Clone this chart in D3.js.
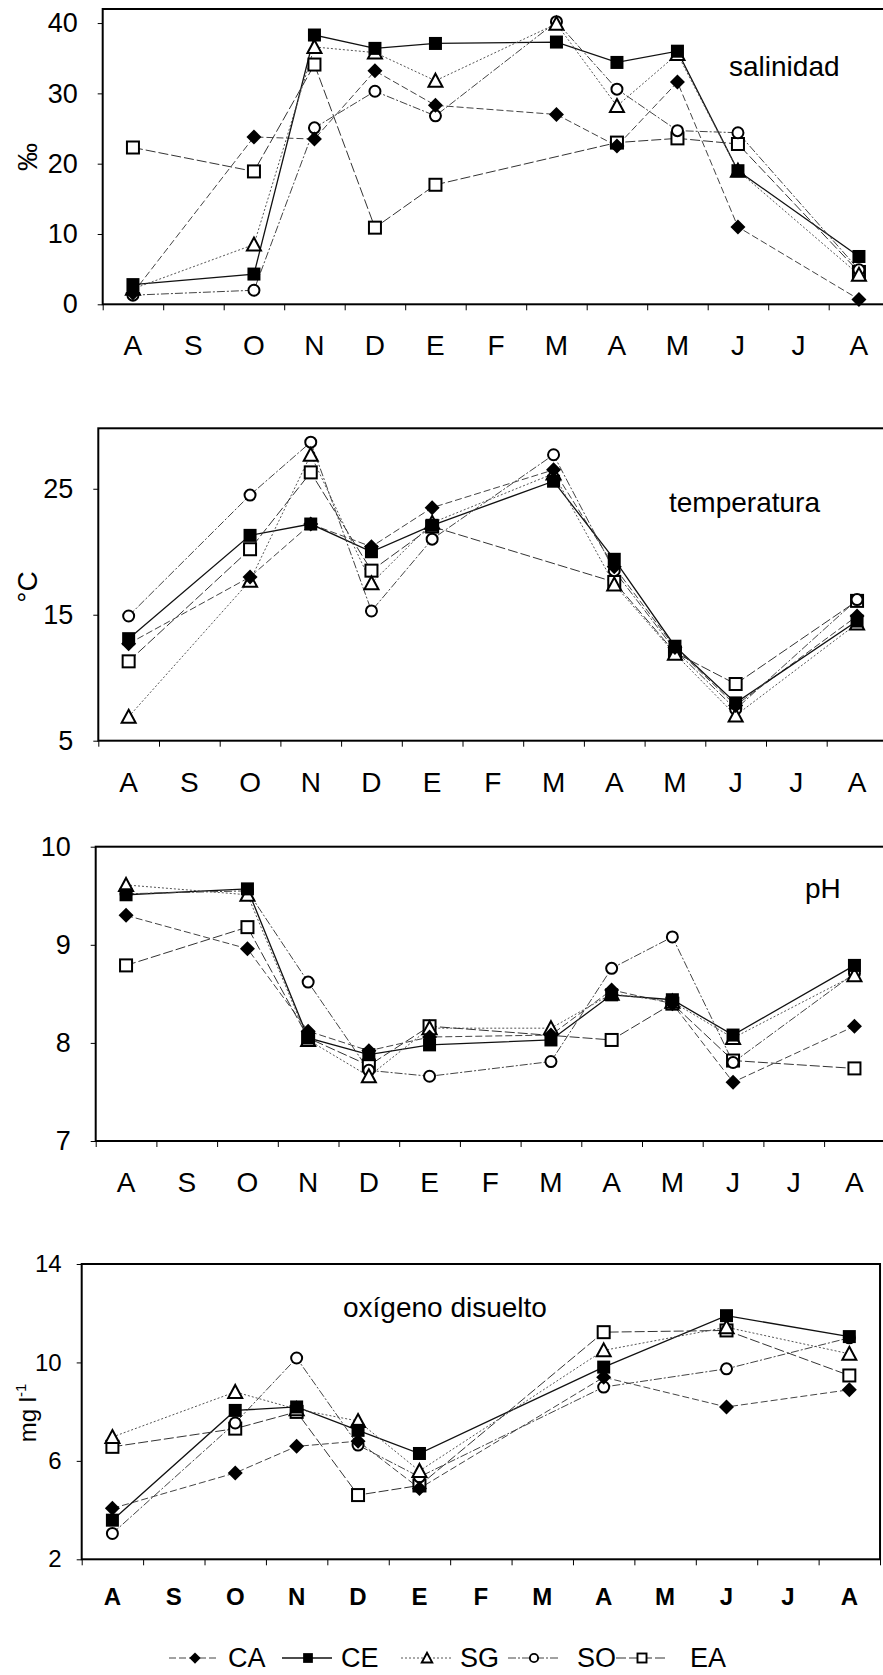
<!DOCTYPE html>
<html>
<head>
<meta charset="utf-8">
<script src="https://cdn.jsdelivr.net/npm/d3@7/dist/d3.min.js"></script>
<style>
body { margin: 0; background: #fff; }
svg text { font-family: "Liberation Sans", Arial, sans-serif; fill: #000; }
</style>
</head>
<body>
<svg id="chart" width="883" height="1675"></svg>
<script>
// month labels (Aug .. Aug)
let months = ["A", "S", "O", "N", "D", "E", "F", "M", "A", "M", "J", "J", "A"];
let stations = ["CA", "CE", "SG", "SO", "EA"];

// salinidad (‰), one value per month, null = not sampled
let salCA = [1.6, null, 23.8, 23.5, 33.2, 28.3, null, 27.0, 22.5, 31.6, 11.0, null, 0.7];
let salCE = [2.8, null, 4.3, 38.3, 36.4, 37.1, null, 37.3, 34.4, 36.0, 19.0, null, 6.8];
let salSG = [2.2, null, 8.5, 36.6, 35.8, 31.8, null, 39.9, 28.2, 35.6, 19.0, null, 4.2];
let salSO = [1.3, null, 2.0, 25.1, 30.3, 26.8, null, 40.2, 30.6, 24.7, 24.4, null, 4.9];
let salEA = [22.3, null, 18.9, 34.1, 10.9, 17.0, null, null, 23.0, 23.6, 22.8, null, 4.6];

// temperatura (°C)
let temCA = [12.7, null, 18.0, 22.2, 20.4, 23.5, null, 26.5, 18.8, 12.4, 7.8, null, 14.9];
let temCE = [13.1, null, 21.3, 22.2, 20.0, 22.1, null, 25.6, 19.4, 12.5, 8.0, null, 14.5];
let temSG = [6.9, null, 17.7, 27.7, 17.5, 22.3, null, 26.2, 17.4, 11.9, 7.0, null, 14.3];
let temSO = [14.9, null, 24.5, 28.7, 15.3, 21.0, null, 27.7, 18.5, 12.2, 7.5, null, 16.2];
let temEA = [11.3, null, 20.2, 26.3, 18.5, 22.0, null, null, 17.6, 12.0, 9.5, null, 16.1];

// pH
let phCA = [9.30, null, 8.96, 8.12, 7.92, 8.06, null, 8.08, 8.54, 8.40, 7.60, null, 8.17];
let phCE = [9.51, null, 9.57, 8.05, 7.88, 7.98, null, 8.03, 8.49, 8.44, 8.08, null, 8.79];
let phSG = [9.61, null, 9.51, 8.03, 7.66, 8.15, null, 8.15, 8.50, 8.42, 8.05, null, 8.69];
let phSO = [9.52, null, 9.55, 8.62, 7.72, 7.66, null, 7.81, 8.76, 9.08, 7.80, null, 8.71];
let phEA = [8.79, null, 9.18, 8.05, 7.77, 8.17, null, null, 8.03, 8.40, 7.82, null, 7.74];

// oxígeno disuelto (mg l-1)
let oxCA = [4.07, null, 5.51, 6.59, 6.8, 4.88, null, null, 9.4, null, 8.19, null, 8.89];
let oxCE = [3.59, null, 8.05, 8.19, 7.24, 6.3, null, null, 9.81, null, 11.9, null, 11.05];
let oxSG = [6.97, null, 8.8, 8.1, 7.62, 5.59, null, null, 10.49, null, 11.43, null, 10.35];
let oxSO = [3.05, null, 7.54, 10.18, 6.64, 5.35, null, null, 9.0, null, 9.74, null, 11.0];
let oxEA = [6.57, null, 7.31, 7.99, 4.61, 5.0, null, null, 11.23, null, 11.3, null, 9.47];

// y axis ticks
let salTicks = [0, 10, 20, 30, 40];
let temTicks = [5, 15, 25];
let phTicks = [7, 8, 9, 10];
let oxTicks = [2, 6, 10, 14];

let svg = d3.select("#chart");

// line look per station
let lineStyle = {
    CA: {stroke: "#444", dash: "7,3", width: 1},
    CE: {stroke: "#111", dash: null, width: 1.3},
    SG: {stroke: "#555", dash: "2,2", width: 1},
    SO: {stroke: "#444", dash: "8,2,2,2", width: 1},
    EA: {stroke: "#333", dash: "10,3", width: 1}
};

// draws the marker for a station at (0,0), s = scale factor
function drawMarker(g, key, s) {
    let sw = 2 * Math.min(1, s + 0.2);
    if (key == "CA") {
        let h = 7.5 * s;
        g.append("path").attr("d", `M0,${-h}L${h},0L0,${h}L${-h},0Z`).attr("fill", "#000");
    } else if (key == "CE") {
        let h = 6.5 * s;
        g.append("rect").attr("x", -h).attr("y", -h).attr("width", 2 * h).attr("height", 2 * h).attr("fill", "#000");
    } else if (key == "SG") {
        let h = 7 * s;
        g.append("path").attr("d", `M0,${-h}L${h},${h * 0.85}L${-h},${h * 0.85}Z`)
            .attr("fill", "#fff").attr("stroke", "#000").attr("stroke-width", sw);
    } else if (key == "SO") {
        g.append("circle").attr("r", 5.5 * s)
            .attr("fill", "#fff").attr("stroke", "#000").attr("stroke-width", sw);
    } else {
        let h = 6 * s;
        g.append("rect").attr("x", -h).attr("y", -h).attr("width", 2 * h).attr("height", 2 * h)
            .attr("fill", "#fff").attr("stroke", "#000").attr("stroke-width", sw);
    }
}

function drawPanel(p) {
    let right = p.left + 13 * p.band;
    let x = d3.scaleBand().domain(d3.range(13)).range([p.left, right]);
    let xl = d3.scaleLinear().domain([0, 13]).range([p.left, right]);
    let y = d3.scaleLinear().domain(p.domain).range([p.bottom, p.top]);
    let cx = i => x(i) + x.bandwidth() / 2;

    let g = svg.append("g");

    // frame
    g.append("rect")
        .attr("x", p.left).attr("y", p.top)
        .attr("width", right - p.left).attr("height", p.bottom - p.top)
        .attr("fill", "none").attr("stroke", "#000").attr("stroke-width", 2);

    // y axis
    let ya = g.append("g")
        .attr("transform", `translate(${p.left},0)`)
        .call(d3.axisLeft(y).tickValues(p.ticks).tickSize(5).tickPadding(p.yPad).tickFormat(d => d));
    ya.select(".domain").remove();
    ya.selectAll("text").style("font-size", p.tickFont + "px");

    // x ticks on band edges
    let xt = g.append("g")
        .attr("transform", `translate(0,${p.bottom})`)
        .call(d3.axisBottom(xl).tickValues(d3.range(14)).tickSize(6).tickFormat(""));
    xt.select(".domain").remove();

    // month labels
    let xa = g.append("g")
        .attr("transform", `translate(0,${p.bottom})`)
        .call(d3.axisBottom(x).tickSize(0).tickPadding(p.monthPad).tickFormat(i => months[i]));
    xa.select(".domain").remove();
    xa.selectAll("text").style("font-size", p.monthFont + "px").style("font-weight", p.monthWeight);

    // lines
    stations.forEach(k => {
        let pts = p.series[k].map((v, i) => ({i: i, v: v})).filter(d => d.v != null);
        let st = lineStyle[k];
        g.append("path")
            .datum(pts)
            .attr("fill", "none")
            .attr("stroke", st.stroke)
            .attr("stroke-width", st.width)
            .attr("stroke-dasharray", st.dash)
            .attr("d", d3.line().x(d => cx(d.i)).y(d => y(d.v)));
    });

    // markers
    p.order.forEach(k => {
        let pts = p.series[k].map((v, i) => ({i: i, v: v})).filter(d => d.v != null);
        pts.forEach(d => {
            let m = g.append("g").attr("transform", `translate(${cx(d.i)},${y(d.v)})`);
            drawMarker(m, k, 1);
        });
    });

    // panel title
    g.append("text")
        .attr("x", p.tx).attr("y", p.ty)
        .style("font-size", "28px")
        .text(p.title);

    // y axis title
    let yl = g.append("text")
        .attr("transform", `translate(${p.lx},${p.ly}) rotate(-90)`)
        .style("text-anchor", "middle")
        .style("font-size", p.labFont + "px");
    if (p.ylab == "mg") {
        yl.append("tspan").text("mg l");
        yl.append("tspan").attr("dy", -10).style("font-size", "15px").text("-1");
    } else {
        yl.text(p.ylab);
    }
}

let order = ["EA", "SO", "SG", "CA", "CE"];

drawPanel({
    series: {CA: salCA, CE: salCE, SG: salSG, SO: salSO, EA: salEA},
    domain: [0, 42], ticks: salTicks,
    left: 102.7, top: 9, bottom: 304.3, band: 60.5,
    tickFont: 27, yPad: 20, monthFont: 28, monthPad: 31, monthWeight: "normal",
    title: "salinidad", tx: 729, ty: 76,
    ylab: "‰", lx: 37, ly: 157, labFont: 28, order: order
});

drawPanel({
    series: {CA: temCA, CE: temCE, SG: temSG, SO: temSO, EA: temEA},
    domain: [5, 29.8], ticks: temTicks,
    left: 98.3, top: 428.3, bottom: 740.7, band: 60.7,
    tickFont: 27, yPad: 20, monthFont: 28, monthPad: 31, monthWeight: "normal",
    title: "temperatura", tx: 669, ty: 512,
    ylab: "°C", lx: 37, ly: 587, labFont: 28, order: order
});

drawPanel({
    series: {CA: phCA, CE: phCE, SG: phSG, SO: phSO, EA: phEA},
    domain: [7, 10], ticks: phTicks,
    left: 95.7, top: 846.7, bottom: 1141, band: 60.7,
    tickFont: 27, yPad: 20, monthFont: 28, monthPad: 31, monthWeight: "normal",
    title: "pH", tx: 805, ty: 898,
    ylab: "", lx: 37, ly: 990, labFont: 28, order: order
});

drawPanel({
    series: {CA: oxCA, CE: oxCE, SG: oxSG, SO: oxSO, EA: oxEA},
    domain: [2, 14], ticks: oxTicks,
    left: 81.7, top: 1264, bottom: 1559.3, band: 61.41,
    tickFont: 24, yPad: 15, monthFont: 24, monthPad: 29, monthWeight: "bold",
    title: "oxígeno disuelto", tx: 343, ty: 1317,
    ylab: "mg", lx: 36, ly: 1413, labFont: 24, order: order
});

// legend
let legendX = [195, 308, 427, 534, 642];
let legend = svg.append("g").attr("transform", "translate(0,1658)");
stations.forEach((k, i) => {
    let st = lineStyle[k];
    let cxm = legendX[i];
    legend.append("line")
        .attr("x1", cxm - 26).attr("x2", cxm + 24)
        .attr("stroke", st.stroke).attr("stroke-width", st.width)
        .attr("stroke-dasharray", st.dash);
    let m = legend.append("g").attr("transform", `translate(${cxm},0)`);
    drawMarker(m, k, 0.75);
    legend.append("text")
        .attr("x", cxm + (i == 3 ? 43 : i == 4 ? 48 : 33))
        .attr("y", 9)
        .style("font-size", "27px")
        .text(k);
});
</script>
</body>
</html>
